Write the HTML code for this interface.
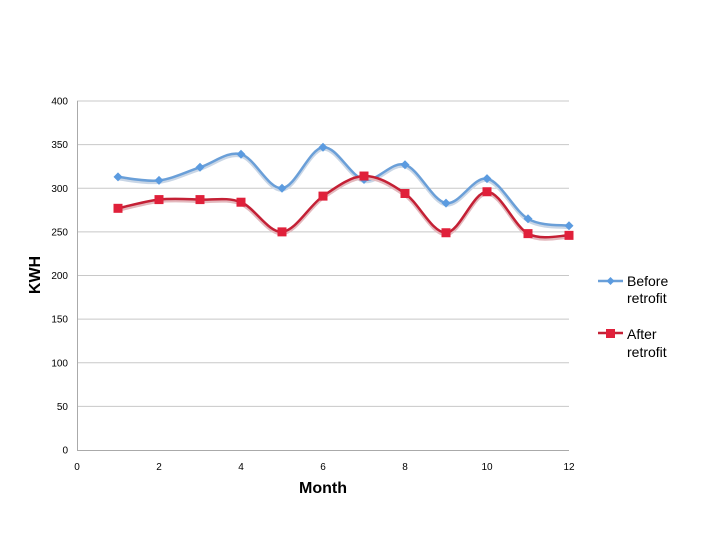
<!DOCTYPE html>
<html><head><meta charset="utf-8"><style>
html,body{margin:0;padding:0;background:#fff;}
svg{display:block;font-family:"Liberation Sans",sans-serif;}
</style></head><body>
<svg id="c" width="720" height="540" xmlns="http://www.w3.org/2000/svg">
<g id="grid" stroke="#c8c8c8" stroke-width="1"></g>
<line x1="77.5" y1="101" x2="77.5" y2="450" stroke="#aaa"/>
<line x1="77" y1="450.5" x2="569" y2="450.5" stroke="#aaa"/>
<g id="lab" font-size="10" fill="#000"></g>
<text x="323" y="493" font-size="16" font-weight="bold" text-anchor="middle">Month</text>
<text transform="translate(40,275) rotate(-90)" font-size="16" font-weight="bold" text-anchor="middle">KWH</text>
<g id="series"></g>
<line x1="598" y1="281" x2="623" y2="281" stroke="#6a9fd8" stroke-width="2.5"/>
<path d="M610.5 277 L614.5 281 L610.5 285 L606.5 281Z" fill="#5b9be0"/>
<text x="627" y="286" font-size="14">Before</text>
<text x="627" y="303" font-size="14">retrofit</text>
<line x1="598" y1="333" x2="623" y2="333" stroke="#c42035" stroke-width="2.5"/>
<rect x="606" y="329" width="9" height="9" fill="#e0203a"/>
<text x="627" y="339" font-size="14">After</text>
<text x="627" y="357" font-size="14">retrofit</text>
</svg>
<script>
var NS="http://www.w3.org/2000/svg";
function X(m){return 77+41*m;}function Y(v){return 450-0.8725*v;}
var g=document.getElementById("grid"),lab=document.getElementById("lab");
for(var v=0;v<=400;v+=50){var y=Y(v);
 if(v>0){var l=document.createElementNS(NS,"line");l.setAttribute("x1",77);l.setAttribute("x2",569);l.setAttribute("y1",y);l.setAttribute("y2",y);g.appendChild(l);}
 var t=document.createElementNS(NS,"text");t.setAttribute("x",68);t.setAttribute("y",y+3.5);t.setAttribute("text-anchor","end");t.textContent=v;lab.appendChild(t);}
for(var m=0;m<=12;m+=2){var t=document.createElementNS(NS,"text");t.setAttribute("x",X(m));t.setAttribute("y",470);t.setAttribute("text-anchor","middle");t.textContent=m;lab.appendChild(t);}
function path(p){var d="M"+p[0][0]+" "+p[0][1];for(var i=0;i<p.length-1;i++){var p0=p[i-1]||p[i],p1=p[i],p2=p[i+1],p3=p[i+2]||p2;
 d+=" C"+(p1[0]+(p2[0]-p0[0])/6)+" "+(p1[1]+(p2[1]-p0[1])/6)+" "+(p2[0]-(p3[0]-p1[0])/6)+" "+(p2[1]-(p3[1]-p1[1])/6)+" "+p2[0]+" "+p2[1];}return d;}
var B=[313,309,324,339,300,347,310,327,283,311,265,257],A=[277,287,287,284,250,291,314,294,249,296,248,246];
var s=document.getElementById("series");
function draw(data,col,shadow,mk){var p=data.map(function(v,i){return[X(i+1),Y(v)];});
 var e=document.createElementNS(NS,"path");e.setAttribute("d",path(p));e.setAttribute("fill","none");e.setAttribute("stroke",shadow);e.setAttribute("stroke-width",4);e.setAttribute("transform","translate(0,1.5)");s.appendChild(e);
 e=document.createElementNS(NS,"path");e.setAttribute("d",path(p));e.setAttribute("fill","none");e.setAttribute("stroke",col);e.setAttribute("stroke-width",2.5);s.appendChild(e);
 p.forEach(function(q){var m;if(mk=="d"){m=document.createElementNS(NS,"path");m.setAttribute("d","M"+q[0]+" "+(q[1]-4.5)+" L"+(q[0]+4.5)+" "+q[1]+" L"+q[0]+" "+(q[1]+4.5)+" L"+(q[0]-4.5)+" "+q[1]+"Z");m.setAttribute("fill","#5b9be0");}
 else{m=document.createElementNS(NS,"rect");m.setAttribute("x",q[0]-4.5);m.setAttribute("y",q[1]-4.5);m.setAttribute("width",9);m.setAttribute("height",9);m.setAttribute("fill","#e0203a");}
 s.appendChild(m);});}
draw(B,"#6a9fd8","#c9d6e6","d");
draw(A,"#c42035","#e3b8bd","s");
</script>
</body></html>
